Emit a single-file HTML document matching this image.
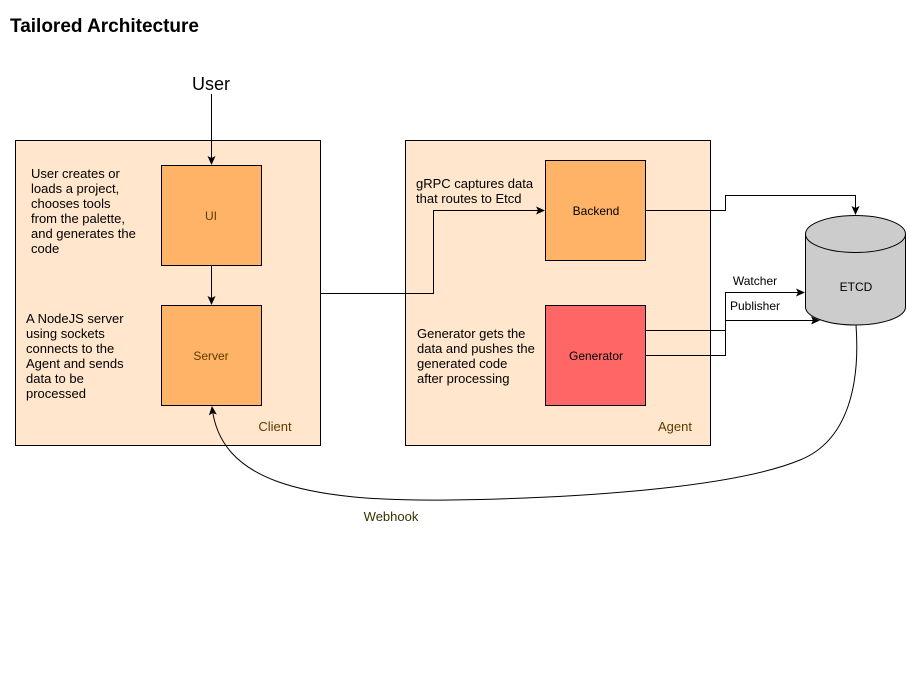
<!DOCTYPE html>
<html><head><meta charset="utf-8"><style>
html,body{margin:0;padding:0;background:#fff;}
svg{display:block;font-family:"Liberation Sans",sans-serif;}
</style></head><body>
<svg width="919" height="681" viewBox="0 0 919 681" xmlns="http://www.w3.org/2000/svg">
<defs>
<marker id="a" markerWidth="10" markerHeight="10" refX="8" refY="5" orient="auto" markerUnits="userSpaceOnUse">
<path d="M0,1 L9,5 L0,9 L2,5 z" fill="#000"/></marker>
</defs>
<rect width="919" height="681" fill="#fff"/>
<text x="10" y="32" font-size="19" font-weight="bold">Tailored Architecture</text>
<text x="211" y="90" font-size="18" text-anchor="middle">User</text>

<rect x="15.5" y="140.5" width="305" height="305" fill="#ffe6cc" stroke="#000"/>
<rect x="405.5" y="140.5" width="305" height="305" fill="#ffe6cc" stroke="#000"/>

<rect x="161.5" y="165.5" width="100" height="100" fill="#ffb366" stroke="#000"/>
<rect x="161.5" y="305.5" width="100" height="100" fill="#ffb366" stroke="#000"/>
<rect x="545.5" y="160.5" width="100" height="100" fill="#ffb366" stroke="#000"/>
<rect x="545.5" y="305.5" width="100" height="100" fill="#ff6666" stroke="#000"/>

<path d="M805.5,234 V307 A50,18 0 0 0 905.5,307 V234" fill="#cccccc" stroke="#000"/>
<ellipse cx="855.5" cy="234" rx="50" ry="18.5" fill="#cccccc" stroke="#000"/>

<g font-size="12" text-anchor="middle">
<text x="211" y="220" fill="#5c3b00">UI</text>
<text x="211" y="360" fill="#5c3b00">Server</text>
<text x="596" y="215">Backend</text>
<text x="596" y="360">Generator</text>
<text x="275" y="431" font-size="13" fill="#5c3b00">Client</text>
<text x="675" y="431" font-size="13" fill="#5c3b00">Agent</text>
<text x="391" y="521" font-size="13" fill="#333300">Webhook</text>
<text x="755" y="285">Watcher</text>
<text x="755" y="310">Publisher</text>
<text x="856" y="291">ETCD</text>
</g>
<g font-size="13">
<text x="31" y="178">User creates or</text>
<text x="31" y="193">loads a project,</text>
<text x="31" y="208">chooses tools</text>
<text x="31" y="223">from the palette,</text>
<text x="31" y="238">and generates the</text>
<text x="31" y="253">code</text>
<text x="26" y="323">A NodeJS server</text>
<text x="26" y="338">using sockets</text>
<text x="26" y="353">connects to the</text>
<text x="26" y="368">Agent and sends</text>
<text x="26" y="383">data to be</text>
<text x="26" y="398">processed</text>
<text x="416" y="188">gRPC captures data</text>
<text x="416" y="203">that routes to Etcd</text>
<text x="417" y="338">Generator gets the</text>
<text x="417" y="353">data and pushes the</text>
<text x="417" y="368">generated code</text>
<text x="417" y="383">after processing</text>
</g>

<g fill="none" stroke="#000" stroke-width="1">
<path d="M211.5,94 V164" marker-end="url(#a)"/>
<path d="M211.5,266 V304" marker-end="url(#a)"/>
<path d="M320,293.5 H433.5 V210.5 H544" marker-end="url(#a)"/>
<path d="M646,210.5 H725.5 V195.5 H855.5 V214" marker-end="url(#a)"/>
<path d="M646,330.5 H725.5 V292.5 H804" marker-end="url(#a)"/>
<path d="M646,355.5 H725.5 V320.5 H819" marker-end="url(#a)"/>
<path d="M856,325 C860,380 850,440 800,460 C740,485 600,498 450,500 C300,502 220,480 212,407" marker-end="url(#a)"/>
</g>
</svg>
</body></html>
